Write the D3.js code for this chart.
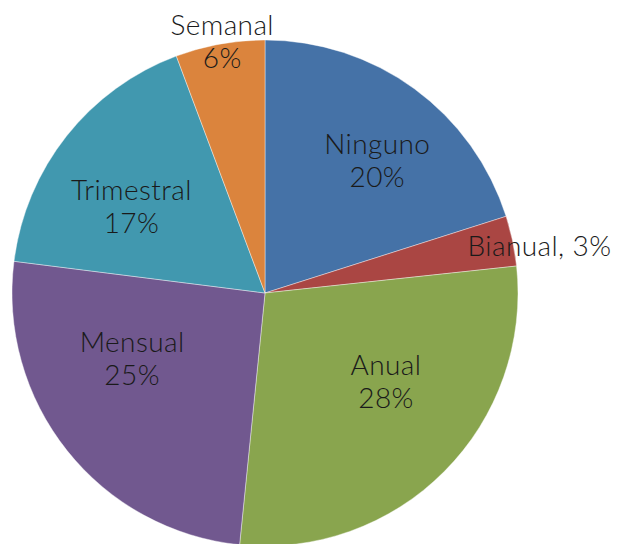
<!DOCTYPE html>
<html><head><meta charset="utf-8">
<script src="https://cdn.jsdelivr.net/npm/d3@7"></script>
<style>html,body{margin:0;padding:0;background:#fff;}svg{display:block;}</style>
</head><body>
<svg id="chart" width="619" height="544"></svg>
<script>
const categories = ["Ninguno", "Bianual", "Anual", "Mensual", "Trimestral", "Semanal"];
const values = [20.1, 3.2, 28.3, 25.4, 17.3, 5.7];
const colors = ["#4572A7", "#AA4643", "#89A54E", "#71588F", "#4198AF", "#DB843D"];

const W = 619, H = 544;
const cx = 265, cy = 293, R = 253;
const svg = d3.select("#chart");
const g = svg.append("g").attr("transform", `translate(${cx},${cy})`);

const pie = d3.pie().sort(null).value(d => d.v);
const data = categories.map((c, i) => ({c, v: values[i], col: colors[i]}));
const arcs = pie(data);
const arc = d3.arc().innerRadius(0).outerRadius(R);

g.selectAll("path").data(arcs).enter().append("path")
  .attr("d", arc)
  .attr("fill", d => d.data.col)
  .attr("stroke", "rgba(255,255,255,0.5)")
  .attr("stroke-width", 0.8);

// label placement config (polar, relative to slice mid-angle)
const labelCfg = {
  "Ninguno":   {r: 174, da: 4,    mode: "two"},
  "Bianual":   {r: 0,   da: 0,    mode: "side"},
  "Anual":     {r: 150, da: -8.6, mode: "two"},
  "Mensual":   {r: 148, da: 12.4, mode: "two"},
  "Trimestral":{r: 159, da: -5.5, mode: "two"},
  "Semanal":   {r: 255, da: 0.6,  mode: "two"}
};
const total = d3.sum(values);
const font = "Lato, 'Open Sans', sans-serif";
const fs = 28;

arcs.forEach(d => {
  const cfg = labelCfg[d.data.c];
  const pct = Math.round(d.data.v / total * 100) + "%";
  const mid = (d.startAngle + d.endAngle) / 2 + cfg.da * Math.PI / 180;
  if (cfg.mode === "two") {
    const x = Math.sin(mid) * cfg.r, y = -Math.cos(mid) * cfg.r;
    const t = g.append("text")
      .attr("text-anchor", "middle")
      .attr("font-family", font).attr("font-size", fs).attr("font-weight", 300)
      .attr("letter-spacing", 0.4)
      .attr("fill", "#1a1a1a");
    t.append("tspan").attr("x", x).attr("y", y - 6.5).text(d.data.c);
    t.append("tspan").attr("x", x).attr("y", y + 26.5).text(pct);
  } else {
    const edge = Math.sin(mid) * R;
    const y = -Math.cos(mid) * R;
    g.append("text")
      .attr("x", edge - 45).attr("y", y + 15)
      .attr("text-anchor", "start")
      .attr("font-family", font).attr("font-size", fs).attr("font-weight", 300)
      .attr("letter-spacing", 0.4)
      .attr("fill", "#1a1a1a")
      .text(d.data.c + ", " + pct);
  }
});
</script>
</body></html>
